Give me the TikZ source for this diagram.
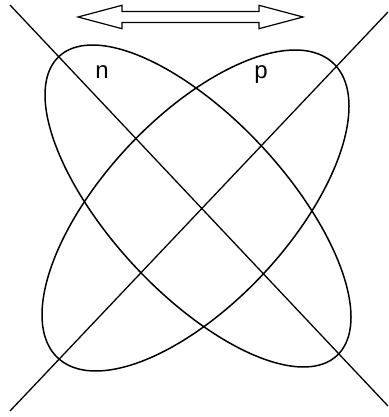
\documentclass[tikz,border=0pt]{standalone}
\usepackage{fontspec}
\setmainfont{Liberation Sans}
\begin{document}
\begin{tikzpicture}[x=1pt,y=-1pt,
  loopline/.style={line width=1.5pt},
  crossline/.style={line width=1.3pt},
  blockarrow/.style={line width=1.2pt, fill=white, line join=miter},
  lbl/.style={font=\fontsize{24}{24}\selectfont, anchor=base, inner sep=0pt}]
\useasboundingbox (0,0) rectangle (388,417);
% crossing straight lines
\coordinate (l1s) at (10,5);
\coordinate (l1e) at (388,406);
\coordinate (l2s) at (388,12);
\coordinate (l2e) at (10,411);
\draw[crossline] (l1s) -- (l1e);
\draw[crossline] (l2s) -- (l2e);
% loops
\draw[loopline] plot[smooth cycle, domain=0:355, samples=72, variable=\t]
  ({198+153*cos(\t)}, {206+161*cos(\t-46.4)});
\draw[loopline] plot[smooth cycle, domain=0:355, samples=72, variable=\t]
  ({195.5+153.5*cos(\t)}, {210.5+160.5*cos(\t-130.5)});
% double block arrow
\draw[blockarrow] (78,17) -- (122,5.3) -- (122,11.5) -- (259,11.5) -- (259,5.3)
  -- (303,17) -- (259,28.7) -- (259,22.5) -- (122,22.5) -- (122,28.7) -- cycle;
% labels
\node[lbl] (n) at (102,79) {n};
\node[lbl] (p) at (261,79) {p};
\end{tikzpicture}
\end{document}
